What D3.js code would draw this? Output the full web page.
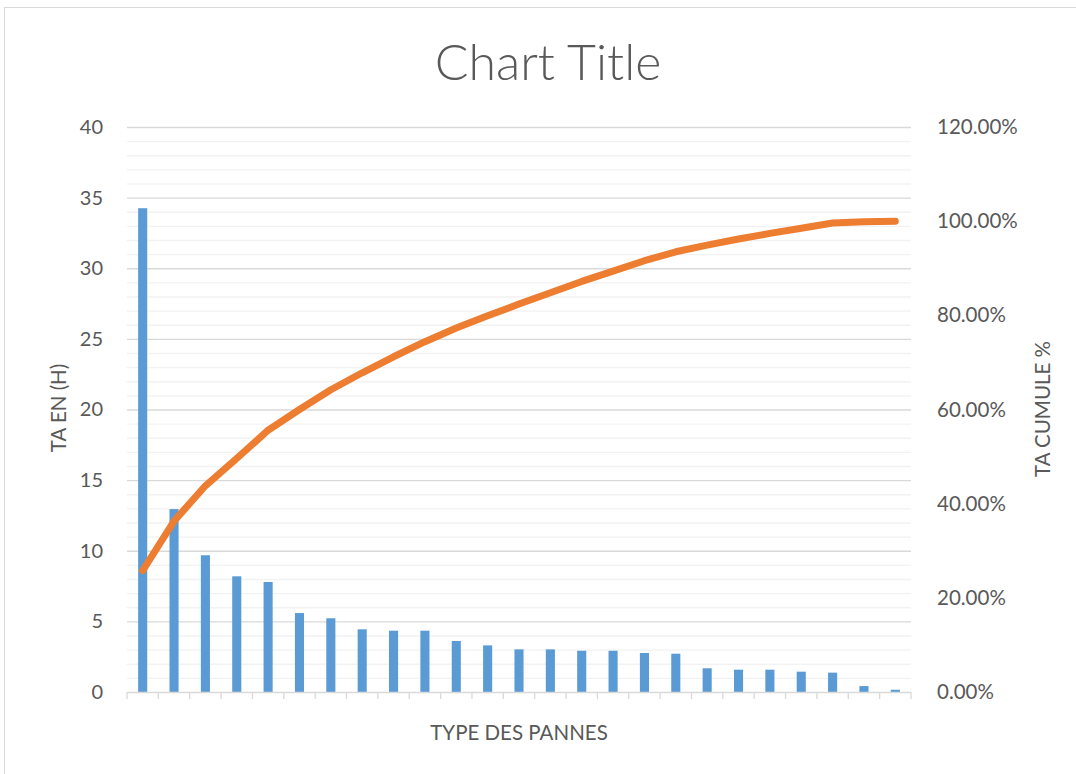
<!DOCTYPE html>
<html>
<head>
<meta charset="utf-8">
<script src="https://cdn.jsdelivr.net/npm/d3@7"></script>
<style>
  body { margin: 0; background: #fff; }
  text { font-family: Lato, "Open Sans", sans-serif; fill: #595959; }
</style>
</head>
<body>
<svg id="pareto" width="1076" height="774"></svg>
<script>
// data
var categories = d3.range(1, 26).map(function(i) { return "P" + i; });
var taHours = [34.25, 12.95, 9.68, 8.19, 7.79, 5.59, 5.22, 4.44, 4.34, 4.34,
               3.61, 3.30, 3.02, 3.02, 2.92, 2.92, 2.76, 2.71, 1.68, 1.58,
               1.58, 1.44, 1.37, 0.42, 0.16];
var taCumul = [0.258, 0.363, 0.438, 0.496, 0.556, 0.600, 0.642, 0.678, 0.712, 0.744,
               0.773, 0.799, 0.824, 0.848, 0.872, 0.894, 0.916, 0.935, 0.949, 0.962,
               0.974, 0.985, 0.996, 0.999, 1.000];
var leftTicks = [0, 5, 10, 15, 20, 25, 30, 35, 40];
var rightTicks = [0, 0.2, 0.4, 0.6, 0.8, 1.0, 1.2];

var svg = d3.select("#pareto");
var margin = {top: 127, right: 165, bottom: 82, left: 127},
    width = +svg.attr("width") - margin.left - margin.right,
    height = +svg.attr("height") - margin.top - margin.bottom;

// chart area border
svg.append("rect")
  .attr("x", 4.5).attr("y", 7.5)
  .attr("width", 1090).attr("height", 790)
  .attr("fill", "none").attr("stroke", "#d9d9d9");

var g = svg.append("g").attr("transform", "translate(" + margin.left + "," + margin.top + ")");

var x = d3.scaleBand()
  .domain(categories)
  .range([0, width])
  .paddingInner(0.71)
  .paddingOuter(0.355);

var xCell = d3.scaleBand().domain(categories).range([0, width]);

var y = d3.scaleLinear().domain([0, 40]).range([height, 0]);
var y2 = d3.scaleLinear().domain([0, 1.2]).range([height, 0]);

// minor gridlines
g.selectAll(".minor")
  .data(d3.range(0, 41, 1).filter(function(d) { return d % 5 !== 0; }))
  .enter().append("line")
  .attr("class", "minor")
  .attr("x1", 0).attr("x2", width)
  .attr("y1", function(d) { return y(d) + 0.5; })
  .attr("y2", function(d) { return y(d) + 0.5; })
  .attr("stroke", "#f2f2f2").attr("stroke-width", 1.3);

// major gridlines
g.selectAll(".major")
  .data(leftTicks.slice(1))
  .enter().append("line")
  .attr("class", "major")
  .attr("x1", 0).attr("x2", width)
  .attr("y1", function(d) { return y(d) + 0.5; })
  .attr("y2", function(d) { return y(d) + 0.5; })
  .attr("stroke", "#d9d9d9").attr("stroke-width", 1.3);

// bars
g.selectAll(".bar")
  .data(taHours)
  .enter().append("rect")
  .attr("class", "bar")
  .attr("x", function(d, i) { return x(categories[i]); })
  .attr("y", function(d) { return y(d); })
  .attr("width", x.bandwidth())
  .attr("height", function(d) { return height - y(d); })
  .attr("fill", "#5b9bd5");

// x axis line and ticks between categories
g.append("line")
  .attr("x1", 0).attr("x2", width)
  .attr("y1", height + 0.5).attr("y2", height + 0.5)
  .attr("stroke", "#d9d9d9").attr("stroke-width", 1.3);

g.selectAll(".xtick")
  .data(categories.concat(["end"]))
  .enter().append("line")
  .attr("class", "xtick")
  .attr("x1", function(d) { return d === "end" ? width : xCell(d); })
  .attr("x2", function(d) { return d === "end" ? width : xCell(d); })
  .attr("y1", height).attr("y2", height + 7)
  .attr("stroke", "#d9d9d9").attr("stroke-width", 1.3);

// cumulative line
var line = d3.line()
  .x(function(d, i) { return x(categories[i]) + x.bandwidth() / 2; })
  .y(function(d) { return y2(d); });

g.append("path")
  .datum(taCumul)
  .attr("d", line)
  .attr("fill", "none")
  .attr("stroke", "#ed7d31")
  .attr("stroke-width", 7)
  .attr("stroke-linecap", "round")
  .attr("stroke-linejoin", "round");

// left axis
var yAxis = g.append("g")
  .call(d3.axisLeft(y).tickValues(leftTicks).tickSize(0).tickPadding(24));
yAxis.select(".domain").remove();
yAxis.selectAll("text").style("font-size", "20px").attr("fill", "#595959");

// right axis
var yAxis2 = g.append("g")
  .attr("transform", "translate(" + width + ",0)")
  .call(d3.axisRight(y2).tickValues(rightTicks).tickSize(0).tickPadding(26).tickFormat(d3.format(".2%")));
yAxis2.select(".domain").remove();
yAxis2.selectAll("text").style("font-size", "20.5px").attr("fill", "#595959");

// title and axis labels
svg.append("text")
  .attr("x", 548).attr("y", 80)
  .attr("text-anchor", "middle")
  .style("font-size", "50px").style("font-weight", 300)
  .text("Chart Title");

svg.append("text")
  .attr("transform", "translate(66,408) rotate(-90)")
  .attr("text-anchor", "middle")
  .style("font-size", "20.5px")
  .text("TA EN (H)");

svg.append("text")
  .attr("transform", "translate(1050,409) rotate(-90)")
  .attr("text-anchor", "middle")
  .style("font-size", "20.5px")
  .text("TA CUMULE %");

svg.append("text")
  .attr("x", 519).attr("y", 740)
  .attr("text-anchor", "middle")
  .style("font-size", "20.5px")
  .text("TYPE DES PANNES");
</script>
</body>
</html>
